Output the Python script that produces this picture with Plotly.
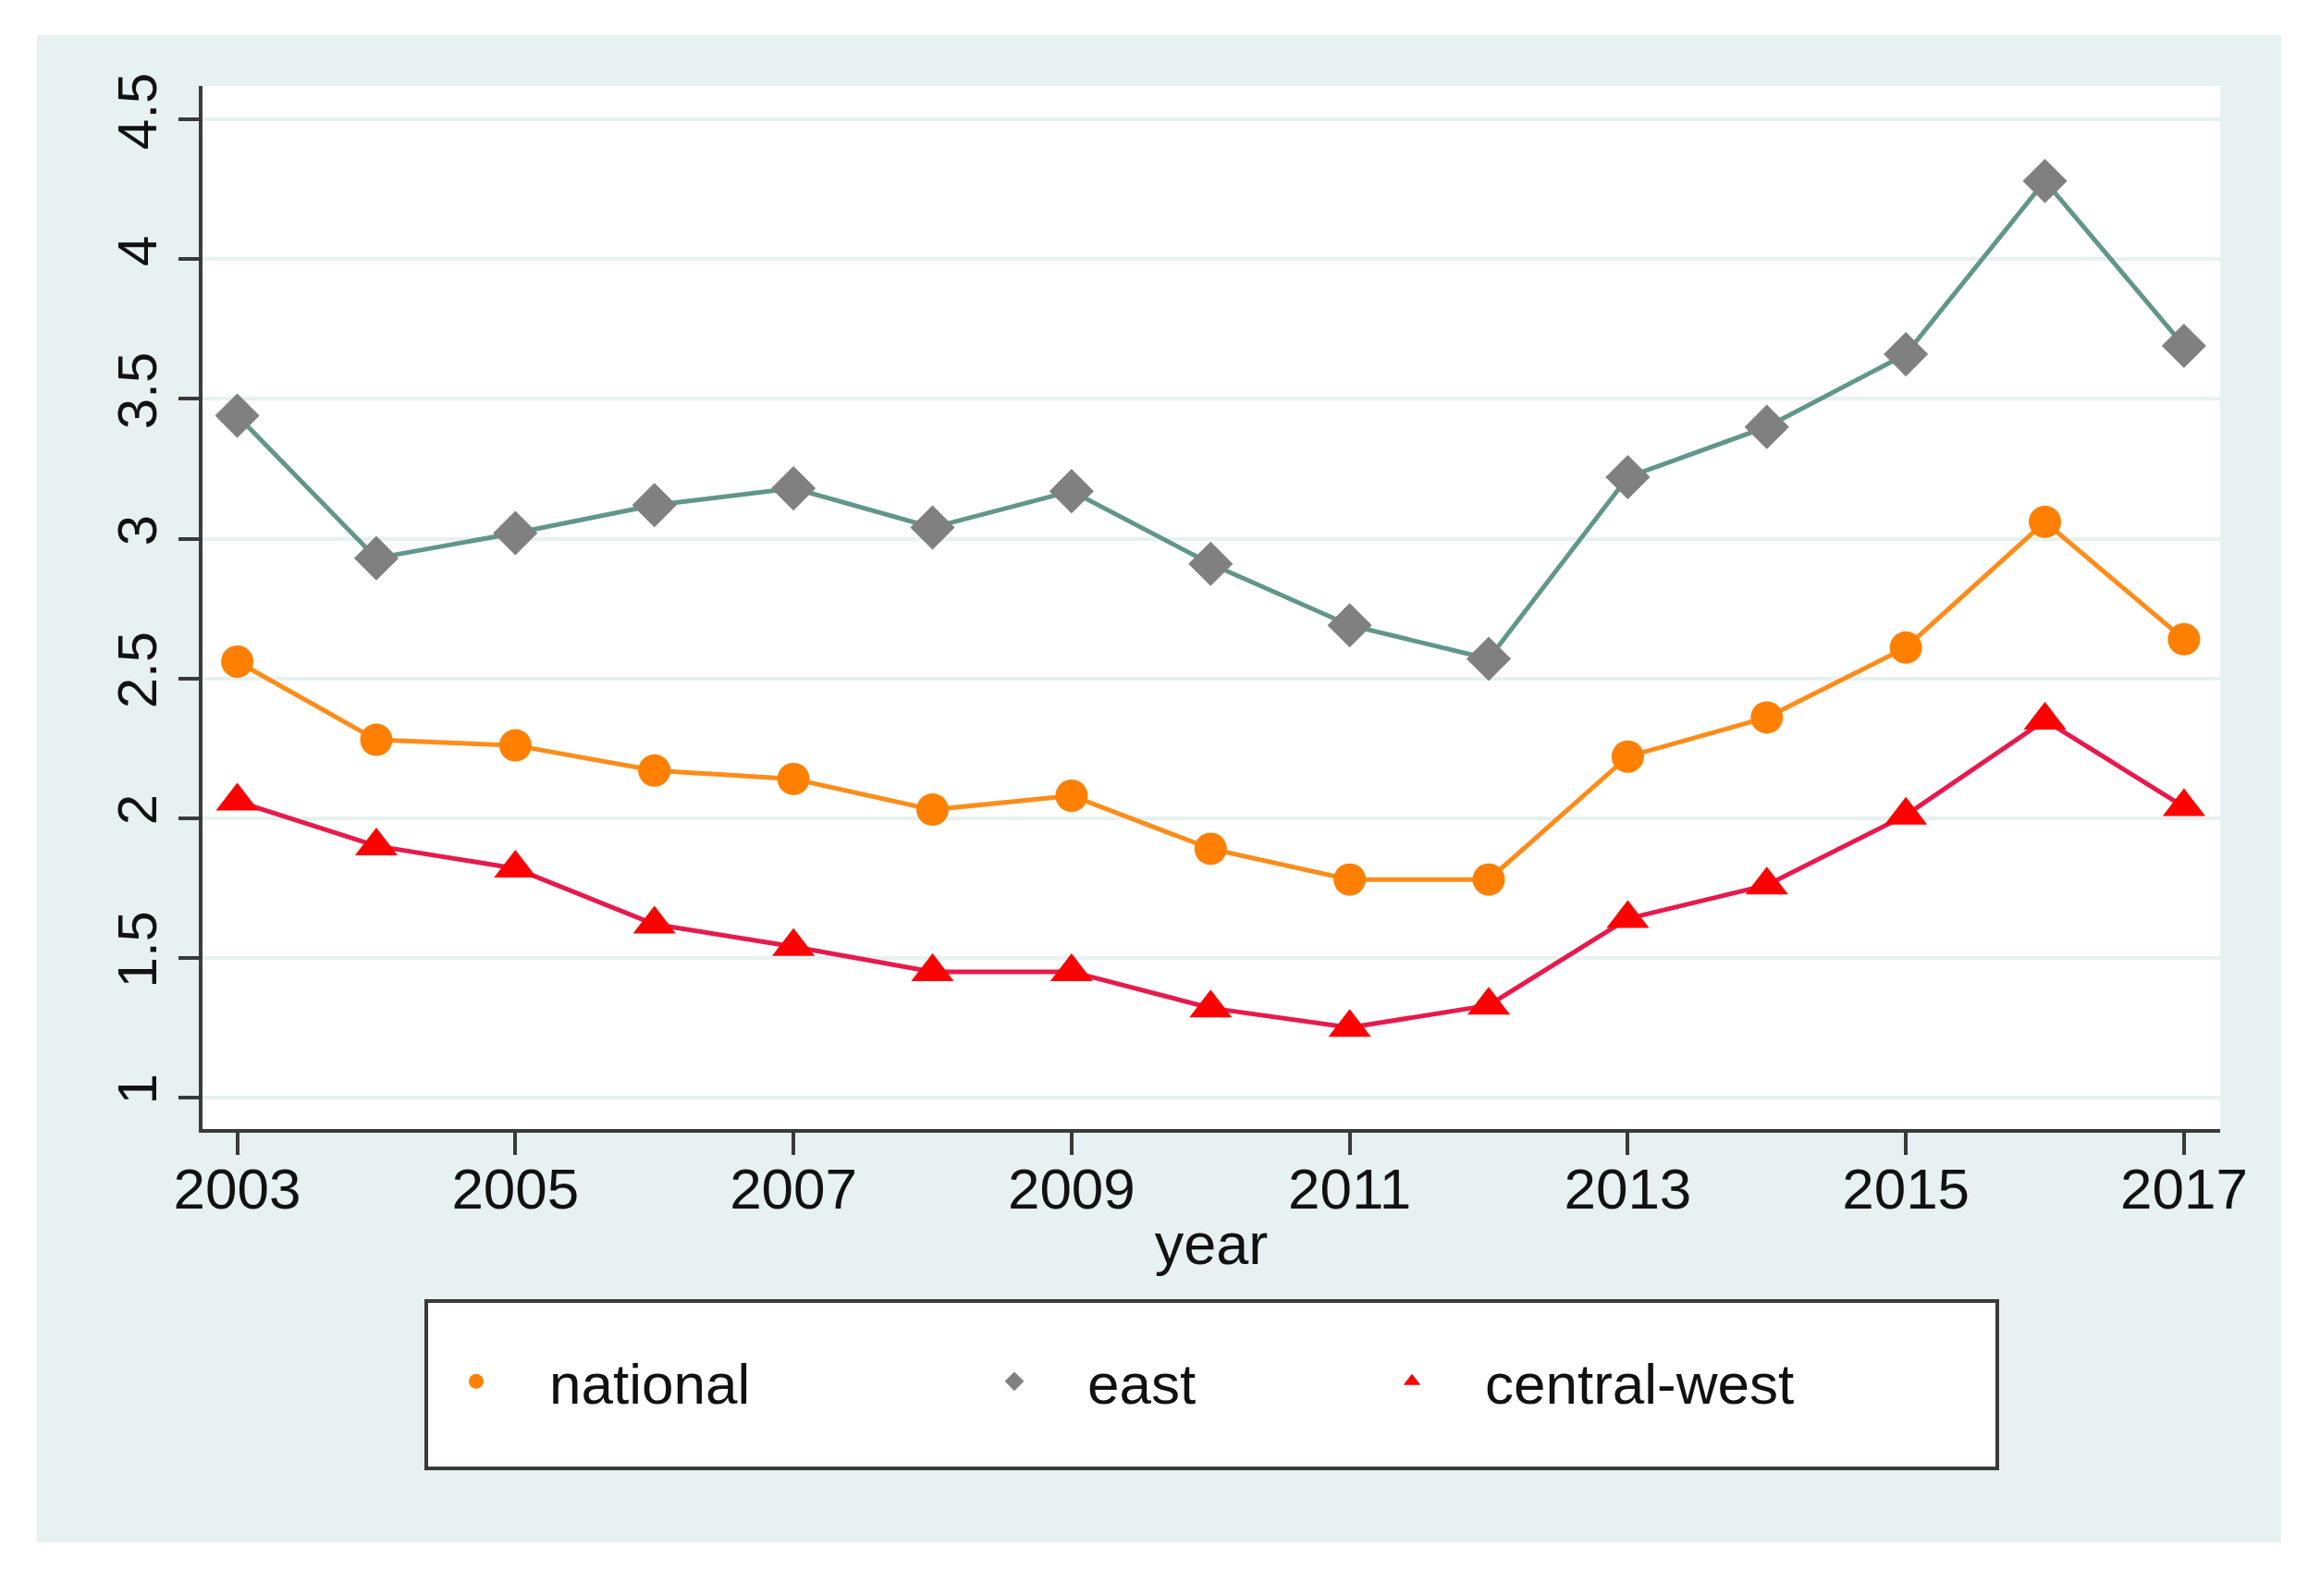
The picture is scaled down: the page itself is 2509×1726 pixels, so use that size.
import plotly.graph_objects as go

years = list(range(2003, 2018))
national = [2.56, 2.28, 2.26, 2.17, 2.14, 2.03, 2.08, 1.89, 1.78, 1.78, 2.22, 2.36, 2.61, 3.06, 2.64]
east = [3.44, 2.93, 3.02, 3.12, 3.18, 3.04, 3.17, 2.91, 2.69, 2.57, 3.22, 3.40, 3.66, 4.28, 3.69]
central_west = [2.06, 1.90, 1.82, 1.62, 1.54, 1.45, 1.45, 1.32, 1.25, 1.33, 1.64, 1.76, 2.01, 2.35, 2.04]

x_ticks = [2003, 2005, 2007, 2009, 2011, 2013, 2015, 2017]
y_ticks = [1, 1.5, 2, 2.5, 3, 3.5, 4, 4.5]
y_ticktext = ["1", "1.5", "2", "2.5", "3", "3.5", "4", "4.5"]

OFF = 8  # default page body margin
W, H = 2509 - 2 * OFF, 1726 - 2 * OFF
L, R, T, B = 219 - OFF, 2401 - OFF, 93 - OFF, 1221 - OFF  # plot area edges (figure px)


def px(xp):
    return (xp - OFF - L) / (R - L)


def py(yp):
    return (B - (yp - OFF)) / (B - T)


FONT = "Liberation Sans, Arial, sans-serif"
BG = "#e8f1f2"
AX = "#3a3a3a"
TXT = "#111111"

series = [
    ("national", national, "#ff8c1a", "circle", 35, "#ff8000", "legend"),
    ("east", east, "#62968a", "diamond", 37, "#808080", "legend2"),
    ("central-west", central_west, "#e8194b", "triangle-up", 40, "#ff0000", "legend3"),
]

fig = go.Figure()
for name, vals, lcol, sym, size, mcol, leg in series:
    fig.add_trace(go.Scatter(
        x=years, y=vals, name=name, mode="lines",
        line=dict(color=lcol, width=5), showlegend=False, hoverinfo="skip",
    ))
for name, vals, lcol, sym, size, mcol, leg in series:
    fig.add_trace(go.Scatter(
        x=years, y=vals, name=name, mode="markers",
        marker=dict(symbol=sym, size=size, color=mcol),
        legend=leg, showlegend=True,
    ))

legend_common = dict(
    orientation="h", yanchor="middle", xanchor="left",
    bgcolor="rgba(0,0,0,0)", borderwidth=0,
    font=dict(family=FONT, size=62, color=TXT),
    itemwidth=148,
)
ly = py(1494)

fig.update_layout(
    width=W, height=H,
    margin=dict(l=L, r=W - R, t=T, b=H - B, pad=0),
    paper_bgcolor="white",
    plot_bgcolor="white",
    font=dict(family=FONT, color=TXT),
    showlegend=True,
    legend=dict(x=px(436), y=ly, **legend_common),
    legend2=dict(x=px(1018), y=ly, **legend_common),
    legend3=dict(x=px(1448), y=ly, **legend_common),
    xaxis=dict(
        range=[2002.75, 2017.26], tickvals=x_ticks,
        ticks="outside", ticklen=24, tickwidth=4, tickcolor=AX,
        showline=True, linecolor=AX, linewidth=4,
        showgrid=False, zeroline=False, ticklabelstandoff=-16,
        tickfont=dict(family=FONT, size=62, color=TXT),
        title=dict(text="year", font=dict(family=FONT, size=63, color=TXT), standoff=4),
    ),
    yaxis=dict(
        range=[0.887, 4.62], tickvals=y_ticks, ticktext=y_ticktext,
        ticks="outside", ticklen=22, tickwidth=4, tickcolor=AX, tickangle=-90,
        showline=True, linecolor=AX, linewidth=4,
        showgrid=True, gridcolor=BG, gridwidth=4, zeroline=False,
        tickfont=dict(family=FONT, size=60, color=TXT),
    ),
    shapes=[
        dict(type="rect", xref="paper", yref="paper", layer="below",
             x0=px(40), x1=px(2467), y0=py(1668), y1=py(38),
             fillcolor=BG, line=dict(width=0)),
        dict(type="rect", xref="paper", yref="paper", layer="below",
             x0=0, x1=1, y0=0, y1=1,
             fillcolor="white", line=dict(width=0)),
        dict(type="rect", xref="paper", yref="paper", layer="below",
             x0=px(461), x1=px(2160), y0=py(1588), y1=py(1407),
             fillcolor="white", line=dict(color=AX, width=4)),
    ],
)

fig.write_html("out.html")
